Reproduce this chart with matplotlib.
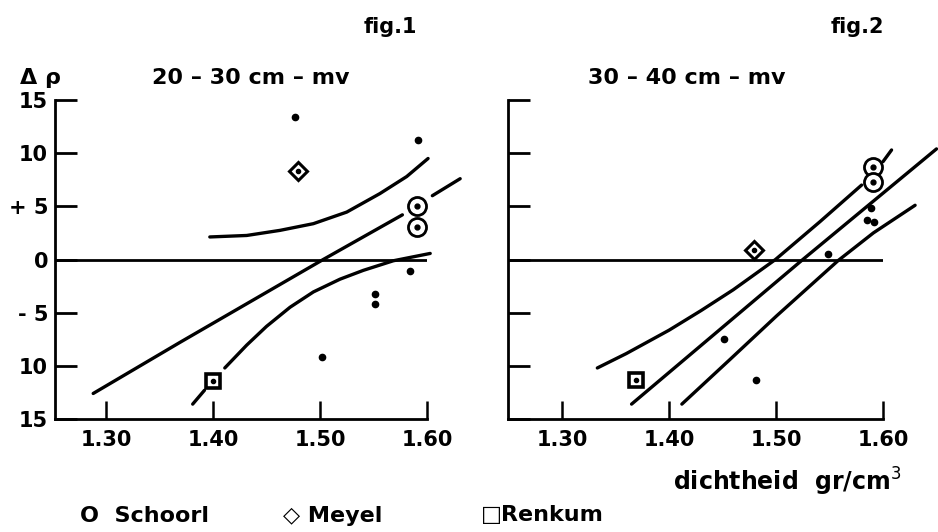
import matplotlib
matplotlib.use("Agg")
import matplotlib.pyplot as plt

plt.rcParams['font.family'] = ['DejaVu Sans']

# ---------------- data: fig.1 (20-30 cm - mv) ----------------
f1_schoorl_x = [1.591, 1.591]
f1_schoorl_y = [5.0, 3.1]
f1_meyel_x = [1.479]
f1_meyel_y = [8.3]
f1_renkum_x = [1.400]
f1_renkum_y = [-11.4]
f1_dots_x = [1.477, 1.592, 1.584, 1.551, 1.551, 1.502]
f1_dots_y = [13.4, 11.2, -1.1, -3.2, -4.2, -9.2]

f1_mid_x = [1.288, 1.369, 1.503, 1.577]
f1_mid_y = [-12.6, -7.8, 0.0, 4.2]
f1_mid_dash_x = [1.605, 1.631]
f1_mid_dash_y = [6.0, 7.6]
f1_up_x = [1.397, 1.4315, 1.4626, 1.4938, 1.525, 1.556, 1.581, 1.601]
f1_up_y = [2.12, 2.26, 2.74, 3.37, 4.46, 6.2, 7.8, 9.5]
f1_lo_dash_x = [1.381, 1.392]
f1_lo_dash_y = [-13.6, -12.3]
f1_lo_x = [1.411, 1.4315, 1.450, 1.472, 1.4938, 1.5187, 1.5405, 1.5685, 1.603]
f1_lo_y = [-10.2, -8.05, -6.29, -4.49, -3.05, -1.85, -1.02, -0.12, 0.57]

# ---------------- data: fig.2 (30-40 cm - mv) ----------------
f2_schoorl_x = [1.591, 1.591]
f2_schoorl_y = [8.7, 7.3]
f2_meyel_x = [1.479]
f2_meyel_y = [0.85]
f2_renkum_x = [1.369]
f2_renkum_y = [-11.3]
f2_dots_x = [1.589, 1.585, 1.592, 1.549, 1.451, 1.481]
f2_dots_y = [4.8, 3.7, 3.5, 0.54, -7.5, -11.35]

f2_up_x = [1.333, 1.360, 1.400, 1.430, 1.460, 1.4995, 1.541, 1.580]
f2_up_y = [-10.2, -8.85, -6.65, -4.8, -2.85, 0.0, 3.55, 7.0]
f2_up_dash_x = [1.600, 1.608]
f2_up_dash_y = [9.2, 10.3]
f2_mid_x = [1.365, 1.524, 1.650]
f2_mid_y = [-13.6, -0.09, 10.4]
f2_lo_x = [1.412, 1.457, 1.5006, 1.5582, 1.591, 1.630]
f2_lo_y = [-13.6, -9.4, -5.3, -0.09, 2.5, 5.1]

yticks = [15, 10, 5, 0, -5, -10, -15]
ytick_labels = ["15", "10", "+ 5", "0", "- 5", "10", "15"]
xticks = [1.30, 1.40, 1.50, 1.60]
xtick_labels = ["1.30", "1.40", "1.50", "1.60"]

W, H = 938, 532
fig = plt.figure(figsize=(W / 100, H / 100), dpi=100)
fig.patch.set_facecolor('white')

ax1 = fig.add_axes([55 / W, 1 - 419 / H, 372 / W, 319 / H])
ax2 = fig.add_axes([508 / W, 1 - 419 / H, 375 / W, 319 / H])

FS = 15
LW = 2.4


def style(ax, xlim, show_ylabels):
    ax.set_xlim(*xlim)
    ax.set_ylim(-15, 15)
    for s in ['top', 'right']:
        ax.spines[s].set_visible(False)
    for s in ['left', 'bottom']:
        ax.spines[s].set_linewidth(2.0)
    ax.set_xticks(xticks)
    ax.set_xticklabels(xtick_labels, fontsize=FS, fontweight='bold')
    ax.set_yticks(yticks)
    if show_ylabels:
        ax.set_yticklabels(ytick_labels, fontsize=FS, fontweight='bold')
    else:
        ax.set_yticklabels([])
    ax.tick_params(axis='y', direction='in', length=16, width=2.0, pad=5)
    ax.tick_params(axis='x', direction='in', length=13, width=1.8, pad=8)
    ax.axhline(0, color='black', lw=2.0, zorder=2)
    ax.set_facecolor('white')


style(ax1, (1.2523, 1.60), True)
style(ax2, (1.2495, 1.60), False)


def draw_markers(ax, sx, sy, mx, my, rx, ry, dx, dy):
    ax.plot(dx, dy, 'o', color='black', ms=4.5, ls='none', zorder=4, clip_on=False)
    ax.plot(sx, sy, 'o', mfc='white', mec='black', mew=2.0, ms=13, ls='none', zorder=5, clip_on=False)
    ax.plot(sx, sy, 'o', color='black', ms=3.5, ls='none', zorder=6, clip_on=False)
    ax.plot(mx, my, 'D', mfc='white', mec='black', mew=2.2, ms=9, ls='none', zorder=5, clip_on=False)
    ax.plot(mx, my, 'o', color='black', ms=3, ls='none', zorder=6, clip_on=False)
    ax.plot(rx, ry, 's', mfc='white', mec='black', mew=2.6, ms=10, ls='none', zorder=5, clip_on=False)
    ax.plot(rx, ry, 'o', color='black', ms=3, ls='none', zorder=6, clip_on=False)


kw = dict(color='black', lw=LW, solid_capstyle='round', solid_joinstyle='round',
          clip_on=False, zorder=3)
# fig.1 lines
ax1.plot(f1_mid_x, f1_mid_y, **kw)
ax1.plot(f1_mid_dash_x, f1_mid_dash_y, **kw)
ax1.plot(f1_up_x, f1_up_y, **kw)
ax1.plot(f1_lo_dash_x, f1_lo_dash_y, **kw)
ax1.plot(f1_lo_x, f1_lo_y, **kw)
draw_markers(ax1, f1_schoorl_x, f1_schoorl_y, f1_meyel_x, f1_meyel_y,
             f1_renkum_x, f1_renkum_y, f1_dots_x, f1_dots_y)

# fig.2 lines
ax2.plot(f2_up_x, f2_up_y, **kw)
ax2.plot(f2_up_dash_x, f2_up_dash_y, **kw)
ax2.plot(f2_mid_x, f2_mid_y, **kw)
ax2.plot(f2_lo_x, f2_lo_y, **kw)
draw_markers(ax2, f2_schoorl_x, f2_schoorl_y, f2_meyel_x, f2_meyel_y,
             f2_renkum_x, f2_renkum_y, f2_dots_x, f2_dots_y)


def ftext(x, y, s, size=FS, **k):
    fig.text(x / W, 1 - y / H, s, fontsize=size, fontweight='bold', **k)


ftext(390, 27, "fig.1", ha='center', va='center')
ftext(857, 27, "fig.2", ha='center', va='center')
ftext(20, 78, "Δ ρ", size=16, ha='left', va='center')
ftext(152, 78, "20 – 30 cm – mv", size=16, ha='left', va='center')
ftext(588, 78, "30 – 40 cm – mv", size=16, ha='left', va='center')
ftext(673, 482, "dichtheid  gr/cm$^3$", size=17, ha='left', va='center')

ftext(80, 516, "O  Schoorl", size=16, ha='left', va='center')
ftext(283, 516, "◇ Meyel", size=16, ha='left', va='center')
ftext(481, 515, "□Renkum", size=16, ha='left', va='center')

fig.savefig("out.png", dpi=100, facecolor='white')
